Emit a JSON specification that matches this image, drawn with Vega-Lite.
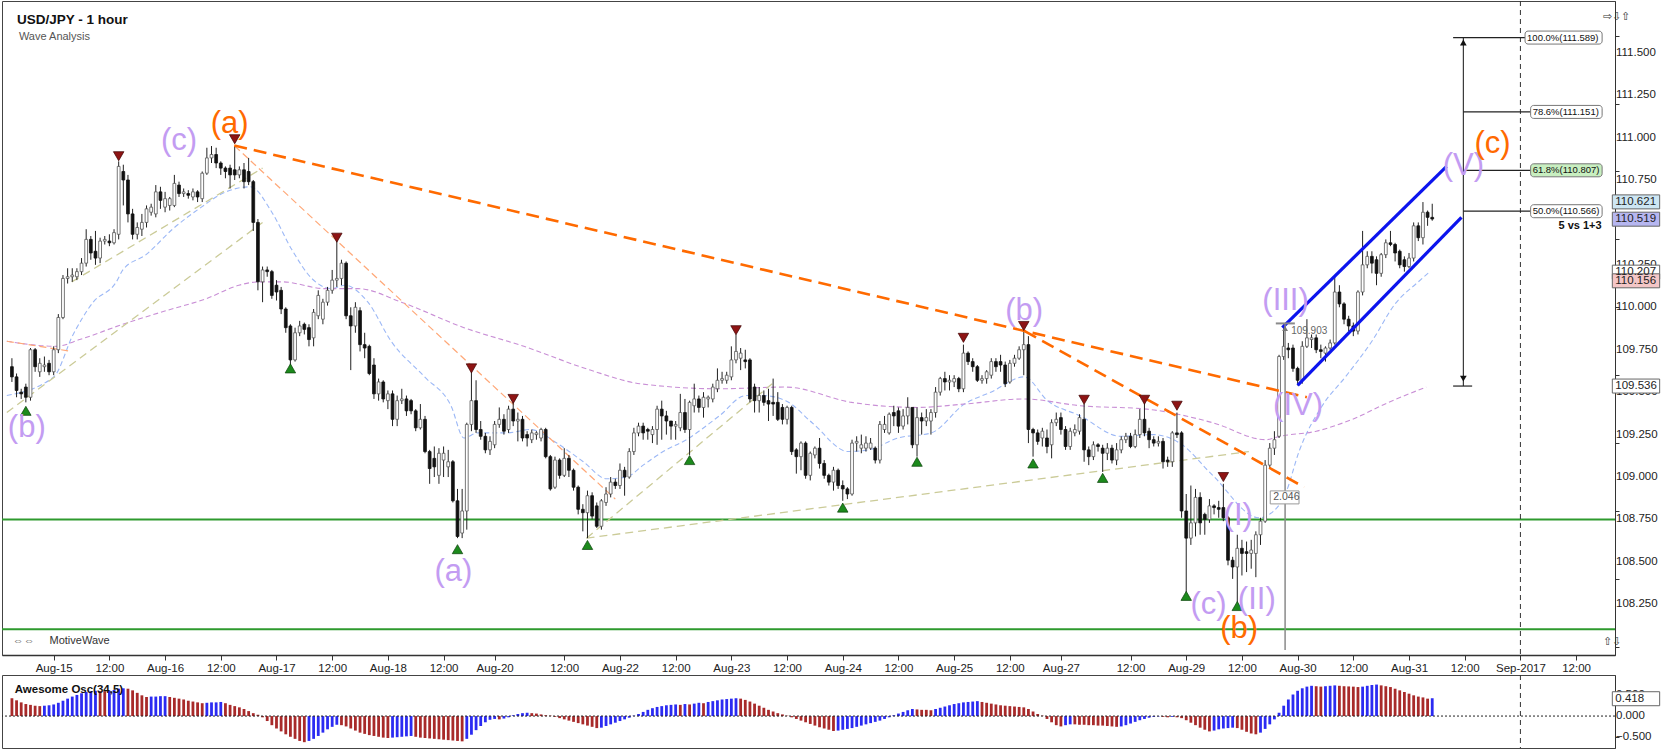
{
  "$schema": "https://vega.github.io/schema/vega-lite/v6.json",
  "padding": 0,
  "background": "#ffffff",
  "spacing": 0,
  "config": {
    "view": {"stroke": "#444444", "strokeWidth": 1},
    "font": "Liberation Sans",
    "axis": {"labelFont": "Liberation Sans", "labelFontSize": 11.5, "labelColor": "#222222", "tickColor": "#333333", "domainColor": "#333333", "grid": false, "labelOverlap": false, "labelFlush": false, "labelBound": false}
  },
  "resolve": {"scale": {"x": "independent", "y": "independent", "color": "independent", "fill": "independent"}},
  "datasets": {
    "bars": [
      {"i":-9,"o":109.65,"h":109.70,"l":109.56,"c":109.59,"a":0.43,"k":"r"},
      {"i":-8,"o":109.59,"h":109.61,"l":109.47,"c":109.51,"a":0.38,"k":"r"},
      {"i":-7,"o":109.50,"h":109.52,"l":109.46,"c":109.49,"a":0.33,"k":"r"},
      {"i":-6,"o":109.53,"h":109.55,"l":109.44,"c":109.47,"a":0.29,"k":"r"},
      {"i":-5,"o":109.47,"h":109.76,"l":109.45,"c":109.75,"a":0.27,"k":"r"},
      {"i":-4,"o":109.75,"h":109.76,"l":109.62,"c":109.65,"a":0.25,"k":"r"},
      {"i":-3,"o":109.62,"h":109.70,"l":109.59,"c":109.67,"a":0.24,"k":"r"},
      {"i":-2,"o":109.65,"h":109.71,"l":109.62,"c":109.66,"a":0.25,"k":"b"},
      {"i":-1,"o":109.67,"h":109.69,"l":109.60,"c":109.62,"a":0.26,"k":"b"},
      {"i":0,"o":109.62,"h":109.77,"l":109.60,"c":109.75,"a":0.28,"k":"b"},
      {"i":1,"o":109.75,"h":109.96,"l":109.73,"c":109.94,"a":0.32,"k":"b"},
      {"i":2,"o":109.94,"h":110.19,"l":109.93,"c":110.17,"a":0.37,"k":"b"},
      {"i":3,"o":110.17,"h":110.23,"l":110.14,"c":110.18,"a":0.42,"k":"b"},
      {"i":4,"o":110.18,"h":110.23,"l":110.15,"c":110.19,"a":0.47,"k":"b"},
      {"i":5,"o":110.18,"h":110.23,"l":110.16,"c":110.21,"a":0.51,"k":"b"},
      {"i":6,"o":110.21,"h":110.29,"l":110.19,"c":110.26,"a":0.55,"k":"b"},
      {"i":7,"o":110.26,"h":110.46,"l":110.24,"c":110.40,"a":0.58,"k":"b"},
      {"i":8,"o":110.40,"h":110.42,"l":110.28,"c":110.32,"a":0.60,"k":"b"},
      {"i":9,"o":110.33,"h":110.45,"l":110.25,"c":110.29,"a":0.61,"k":"b"},
      {"i":10,"o":110.29,"h":110.41,"l":110.26,"c":110.39,"a":0.60,"k":"r"},
      {"i":11,"o":110.39,"h":110.42,"l":110.37,"c":110.40,"a":0.60,"k":"r"},
      {"i":12,"o":110.39,"h":110.43,"l":110.36,"c":110.38,"a":0.61,"k":"b"},
      {"i":13,"o":110.38,"h":110.46,"l":110.37,"c":110.44,"a":0.63,"k":"b"},
      {"i":14,"o":110.43,"h":110.86,"l":110.40,"c":110.83,"a":0.66,"k":"b"},
      {"i":15,"o":110.80,"h":110.84,"l":110.60,"c":110.75,"a":0.67,"k":"b"},
      {"i":16,"o":110.75,"h":110.78,"l":110.50,"c":110.55,"a":0.66,"k":"r"},
      {"i":17,"o":110.55,"h":110.58,"l":110.40,"c":110.43,"a":0.62,"k":"r"},
      {"i":18,"o":110.43,"h":110.50,"l":110.40,"c":110.47,"a":0.56,"k":"r"},
      {"i":19,"o":110.46,"h":110.55,"l":110.42,"c":110.50,"a":0.50,"k":"r"},
      {"i":20,"o":110.50,"h":110.60,"l":110.47,"c":110.58,"a":0.46,"k":"r"},
      {"i":21,"o":110.56,"h":110.61,"l":110.54,"c":110.59,"a":0.47,"k":"b"},
      {"i":22,"o":110.55,"h":110.72,"l":110.53,"c":110.68,"a":0.47,"k":"b"},
      {"i":23,"o":110.68,"h":110.71,"l":110.58,"c":110.63,"a":0.48,"k":"b"},
      {"i":24,"o":110.59,"h":110.68,"l":110.56,"c":110.64,"a":0.48,"k":"b"},
      {"i":25,"o":110.60,"h":110.65,"l":110.57,"c":110.64,"a":0.46,"k":"r"},
      {"i":26,"o":110.60,"h":110.78,"l":110.59,"c":110.73,"a":0.44,"k":"r"},
      {"i":27,"o":110.72,"h":110.74,"l":110.65,"c":110.67,"a":0.42,"k":"r"},
      {"i":28,"o":110.67,"h":110.70,"l":110.65,"c":110.68,"a":0.40,"k":"r"},
      {"i":29,"o":110.67,"h":110.69,"l":110.64,"c":110.66,"a":0.37,"k":"r"},
      {"i":30,"o":110.65,"h":110.70,"l":110.63,"c":110.68,"a":0.35,"k":"r"},
      {"i":31,"o":110.68,"h":110.69,"l":110.62,"c":110.65,"a":0.33,"k":"r"},
      {"i":32,"o":110.64,"h":110.80,"l":110.62,"c":110.79,"a":0.31,"k":"r"},
      {"i":33,"o":110.79,"h":110.94,"l":110.78,"c":110.88,"a":0.32,"k":"b"},
      {"i":34,"o":110.88,"h":110.95,"l":110.85,"c":110.90,"a":0.33,"k":"b"},
      {"i":35,"o":110.90,"h":110.94,"l":110.82,"c":110.85,"a":0.33,"k":"b"},
      {"i":36,"o":110.85,"h":110.86,"l":110.78,"c":110.82,"a":0.34,"k":"b"},
      {"i":37,"o":110.82,"h":110.83,"l":110.76,"c":110.80,"a":0.31,"k":"r"},
      {"i":38,"o":110.82,"h":110.84,"l":110.70,"c":110.78,"a":0.27,"k":"r"},
      {"i":39,"o":110.81,"h":110.95,"l":110.75,"c":110.78,"a":0.24,"k":"r"},
      {"i":40,"o":110.78,"h":110.83,"l":110.76,"c":110.81,"a":0.21,"k":"r"},
      {"i":41,"o":110.81,"h":110.85,"l":110.70,"c":110.74,"a":0.17,"k":"r"},
      {"i":42,"o":110.80,"h":110.88,"l":110.72,"c":110.74,"a":0.12,"k":"r"},
      {"i":43,"o":110.74,"h":110.75,"l":110.45,"c":110.50,"a":0.07,"k":"r"},
      {"i":44,"o":110.50,"h":110.52,"l":110.10,"c":110.15,"a":0.03,"k":"r"},
      {"i":45,"o":110.15,"h":110.24,"l":110.03,"c":110.22,"a":-0.03,"k":"r"},
      {"i":46,"o":110.22,"h":110.24,"l":110.18,"c":110.21,"a":-0.12,"k":"r"},
      {"i":47,"o":110.21,"h":110.22,"l":110.05,"c":110.07,"a":-0.22,"k":"r"},
      {"i":48,"o":110.13,"h":110.16,"l":110.04,"c":110.09,"a":-0.30,"k":"r"},
      {"i":49,"o":110.10,"h":110.12,"l":109.96,"c":109.99,"a":-0.37,"k":"r"},
      {"i":50,"o":109.99,"h":110.00,"l":109.85,"c":109.88,"a":-0.44,"k":"r"},
      {"i":51,"o":109.89,"h":109.90,"l":109.66,"c":109.69,"a":-0.50,"k":"r"},
      {"i":52,"o":109.69,"h":109.88,"l":109.68,"c":109.85,"a":-0.55,"k":"r"},
      {"i":53,"o":109.85,"h":109.92,"l":109.83,"c":109.89,"a":-0.60,"k":"r"},
      {"i":54,"o":109.90,"h":109.91,"l":109.84,"c":109.87,"a":-0.63,"k":"r"},
      {"i":55,"o":109.88,"h":109.90,"l":109.77,"c":109.81,"a":-0.60,"k":"b"},
      {"i":56,"o":109.82,"h":109.99,"l":109.77,"c":109.97,"a":-0.55,"k":"b"},
      {"i":57,"o":109.95,"h":110.10,"l":109.93,"c":110.07,"a":-0.48,"k":"b"},
      {"i":58,"o":109.93,"h":110.05,"l":109.90,"c":110.03,"a":-0.40,"k":"b"},
      {"i":59,"o":110.03,"h":110.12,"l":110.01,"c":110.10,"a":-0.32,"k":"b"},
      {"i":60,"o":110.10,"h":110.22,"l":110.08,"c":110.16,"a":-0.26,"k":"b"},
      {"i":61,"o":110.16,"h":110.40,"l":110.12,"c":110.17,"a":-0.21,"k":"b"},
      {"i":62,"o":110.17,"h":110.28,"l":110.13,"c":110.26,"a":-0.22,"k":"r"},
      {"i":63,"o":110.26,"h":110.27,"l":109.93,"c":109.95,"a":-0.25,"k":"r"},
      {"i":64,"o":109.95,"h":110.00,"l":109.63,"c":109.89,"a":-0.30,"k":"r"},
      {"i":65,"o":109.89,"h":110.03,"l":109.85,"c":110.00,"a":-0.35,"k":"r"},
      {"i":66,"o":109.98,"h":110.00,"l":109.74,"c":109.78,"a":-0.40,"k":"r"},
      {"i":67,"o":109.78,"h":109.85,"l":109.70,"c":109.76,"a":-0.43,"k":"r"},
      {"i":68,"o":109.77,"h":109.78,"l":109.60,"c":109.61,"a":-0.46,"k":"r"},
      {"i":69,"o":109.66,"h":109.70,"l":109.46,"c":109.49,"a":-0.48,"k":"r"},
      {"i":70,"o":109.49,"h":109.58,"l":109.45,"c":109.56,"a":-0.50,"k":"r"},
      {"i":71,"o":109.56,"h":109.57,"l":109.44,"c":109.46,"a":-0.52,"k":"r"},
      {"i":72,"o":109.45,"h":109.51,"l":109.40,"c":109.49,"a":-0.53,"k":"r"},
      {"i":73,"o":109.49,"h":109.51,"l":109.30,"c":109.34,"a":-0.52,"k":"b"},
      {"i":74,"o":109.34,"h":109.48,"l":109.30,"c":109.45,"a":-0.51,"k":"b"},
      {"i":75,"o":109.45,"h":109.52,"l":109.43,"c":109.46,"a":-0.50,"k":"b"},
      {"i":76,"o":109.46,"h":109.48,"l":109.36,"c":109.39,"a":-0.49,"k":"b"},
      {"i":77,"o":109.45,"h":109.46,"l":109.37,"c":109.39,"a":-0.48,"k":"b"},
      {"i":78,"o":109.39,"h":109.40,"l":109.27,"c":109.29,"a":-0.50,"k":"r"},
      {"i":79,"o":109.29,"h":109.43,"l":109.28,"c":109.34,"a":-0.52,"k":"r"},
      {"i":80,"o":109.34,"h":109.36,"l":109.14,"c":109.15,"a":-0.53,"k":"r"},
      {"i":81,"o":109.15,"h":109.16,"l":108.96,"c":109.05,"a":-0.54,"k":"r"},
      {"i":82,"o":109.11,"h":109.18,"l":109.00,"c":109.06,"a":-0.55,"k":"r"},
      {"i":83,"o":109.01,"h":109.17,"l":108.96,"c":109.14,"a":-0.56,"k":"r"},
      {"i":84,"o":109.10,"h":109.18,"l":109.00,"c":109.14,"a":-0.57,"k":"r"},
      {"i":85,"o":109.06,"h":109.16,"l":109.00,"c":109.09,"a":-0.58,"k":"r"},
      {"i":86,"o":109.09,"h":109.10,"l":108.85,"c":108.86,"a":-0.59,"k":"r"},
      {"i":87,"o":108.86,"h":108.93,"l":108.64,"c":108.65,"a":-0.60,"k":"r"},
      {"i":88,"o":108.67,"h":108.93,"l":108.64,"c":108.80,"a":-0.61,"k":"r"},
      {"i":89,"o":108.80,"h":109.32,"l":108.69,"c":109.31,"a":-0.55,"k":"b"},
      {"i":90,"o":109.31,"h":109.62,"l":109.27,"c":109.45,"a":-0.45,"k":"b"},
      {"i":91,"o":109.45,"h":109.57,"l":109.26,"c":109.28,"a":-0.34,"k":"b"},
      {"i":92,"o":109.28,"h":109.33,"l":109.22,"c":109.24,"a":-0.24,"k":"b"},
      {"i":93,"o":109.24,"h":109.26,"l":109.14,"c":109.16,"a":-0.15,"k":"b"},
      {"i":94,"o":109.16,"h":109.24,"l":109.13,"c":109.21,"a":-0.09,"k":"b"},
      {"i":95,"o":109.19,"h":109.33,"l":109.17,"c":109.31,"a":-0.07,"k":"b"},
      {"i":96,"o":109.31,"h":109.41,"l":109.29,"c":109.34,"a":-0.08,"k":"r"},
      {"i":97,"o":109.34,"h":109.37,"l":109.25,"c":109.27,"a":-0.06,"k":"b"},
      {"i":98,"o":109.28,"h":109.42,"l":109.26,"c":109.40,"a":-0.03,"k":"b"},
      {"i":99,"o":109.40,"h":109.45,"l":109.30,"c":109.33,"a":0.02,"k":"b"},
      {"i":100,"o":109.33,"h":109.38,"l":109.21,"c":109.34,"a":0.05,"k":"b"},
      {"i":101,"o":109.34,"h":109.36,"l":109.21,"c":109.23,"a":0.07,"k":"b"},
      {"i":102,"o":109.25,"h":109.27,"l":109.18,"c":109.23,"a":0.08,"k":"b"},
      {"i":103,"o":109.22,"h":109.28,"l":109.20,"c":109.26,"a":0.07,"k":"r"},
      {"i":104,"o":109.25,"h":109.27,"l":109.22,"c":109.26,"a":0.06,"k":"r"},
      {"i":105,"o":109.23,"h":109.29,"l":109.21,"c":109.28,"a":0.04,"k":"r"},
      {"i":106,"o":109.28,"h":109.29,"l":109.11,"c":109.12,"a":0.02,"k":"r"},
      {"i":107,"o":109.12,"h":109.13,"l":108.92,"c":108.93,"a":0.01,"k":"r"},
      {"i":108,"o":108.94,"h":109.12,"l":108.93,"c":109.10,"a":-0.02,"k":"r"},
      {"i":109,"o":109.10,"h":109.11,"l":108.99,"c":109.01,"a":-0.05,"k":"r"},
      {"i":110,"o":109.01,"h":109.17,"l":109.00,"c":109.11,"a":-0.08,"k":"r"},
      {"i":111,"o":109.11,"h":109.13,"l":109.00,"c":109.04,"a":-0.11,"k":"r"},
      {"i":112,"o":109.04,"h":109.05,"l":108.92,"c":108.94,"a":-0.14,"k":"r"},
      {"i":113,"o":108.94,"h":108.95,"l":108.78,"c":108.81,"a":-0.17,"k":"r"},
      {"i":114,"o":108.81,"h":108.84,"l":108.68,"c":108.79,"a":-0.20,"k":"r"},
      {"i":115,"o":108.79,"h":108.92,"l":108.64,"c":108.89,"a":-0.23,"k":"r"},
      {"i":116,"o":108.89,"h":108.91,"l":108.75,"c":108.77,"a":-0.26,"k":"r"},
      {"i":117,"o":108.83,"h":108.85,"l":108.70,"c":108.71,"a":-0.29,"k":"r"},
      {"i":118,"o":108.71,"h":108.87,"l":108.69,"c":108.86,"a":-0.28,"k":"b"},
      {"i":119,"o":108.85,"h":108.94,"l":108.83,"c":108.90,"a":-0.24,"k":"b"},
      {"i":120,"o":108.90,"h":109.00,"l":108.88,"c":108.97,"a":-0.20,"k":"b"},
      {"i":121,"o":108.97,"h":108.99,"l":108.93,"c":108.95,"a":-0.16,"k":"b"},
      {"i":122,"o":108.95,"h":109.08,"l":108.93,"c":109.04,"a":-0.12,"k":"b"},
      {"i":123,"o":109.04,"h":109.06,"l":108.89,"c":109.00,"a":-0.08,"k":"b"},
      {"i":124,"o":109.00,"h":109.17,"l":108.99,"c":109.15,"a":-0.04,"k":"b"},
      {"i":125,"o":109.15,"h":109.29,"l":109.13,"c":109.26,"a":0.01,"k":"b"},
      {"i":126,"o":109.26,"h":109.32,"l":109.24,"c":109.30,"a":0.05,"k":"b"},
      {"i":127,"o":109.30,"h":109.32,"l":109.22,"c":109.26,"a":0.10,"k":"b"},
      {"i":128,"o":109.28,"h":109.29,"l":109.22,"c":109.27,"a":0.15,"k":"b"},
      {"i":129,"o":109.25,"h":109.30,"l":109.20,"c":109.28,"a":0.19,"k":"b"},
      {"i":130,"o":109.28,"h":109.42,"l":109.19,"c":109.40,"a":0.22,"k":"b"},
      {"i":131,"o":109.40,"h":109.45,"l":109.22,"c":109.36,"a":0.24,"k":"b"},
      {"i":132,"o":109.36,"h":109.39,"l":109.25,"c":109.33,"a":0.26,"k":"b"},
      {"i":133,"o":109.33,"h":109.33,"l":109.22,"c":109.30,"a":0.27,"k":"b"},
      {"i":134,"o":109.30,"h":109.33,"l":109.22,"c":109.31,"a":0.28,"k":"b"},
      {"i":135,"o":109.29,"h":109.49,"l":109.27,"c":109.38,"a":0.27,"k":"r"},
      {"i":136,"o":109.38,"h":109.46,"l":109.26,"c":109.28,"a":0.29,"k":"b"},
      {"i":137,"o":109.28,"h":109.45,"l":109.13,"c":109.44,"a":0.28,"k":"r"},
      {"i":138,"o":109.42,"h":109.55,"l":109.38,"c":109.46,"a":0.30,"k":"b"},
      {"i":139,"o":109.46,"h":109.48,"l":109.38,"c":109.41,"a":0.32,"k":"b"},
      {"i":140,"o":109.41,"h":109.50,"l":109.35,"c":109.47,"a":0.31,"k":"r"},
      {"i":141,"o":109.46,"h":109.48,"l":109.41,"c":109.47,"a":0.34,"k":"b"},
      {"i":142,"o":109.46,"h":109.55,"l":109.44,"c":109.53,"a":0.36,"k":"b"},
      {"i":143,"o":109.52,"h":109.64,"l":109.50,"c":109.57,"a":0.38,"k":"b"},
      {"i":144,"o":109.57,"h":109.62,"l":109.55,"c":109.58,"a":0.40,"k":"b"},
      {"i":145,"o":109.57,"h":109.62,"l":109.55,"c":109.60,"a":0.41,"k":"b"},
      {"i":146,"o":109.59,"h":109.77,"l":109.57,"c":109.69,"a":0.42,"k":"b"},
      {"i":147,"o":109.69,"h":109.84,"l":109.67,"c":109.74,"a":0.43,"k":"b"},
      {"i":148,"o":109.70,"h":109.76,"l":109.63,"c":109.73,"a":0.42,"k":"r"},
      {"i":149,"o":109.69,"h":109.75,"l":109.64,"c":109.68,"a":0.39,"k":"r"},
      {"i":150,"o":109.69,"h":109.70,"l":109.44,"c":109.46,"a":0.35,"k":"r"},
      {"i":151,"o":109.53,"h":109.55,"l":109.38,"c":109.45,"a":0.30,"k":"r"},
      {"i":152,"o":109.45,"h":109.53,"l":109.38,"c":109.48,"a":0.25,"k":"r"},
      {"i":153,"o":109.48,"h":109.51,"l":109.42,"c":109.44,"a":0.20,"k":"r"},
      {"i":154,"o":109.45,"h":109.52,"l":109.33,"c":109.43,"a":0.15,"k":"r"},
      {"i":155,"o":109.44,"h":109.58,"l":109.36,"c":109.43,"a":0.11,"k":"r"},
      {"i":156,"o":109.44,"h":109.50,"l":109.33,"c":109.34,"a":0.07,"k":"r"},
      {"i":157,"o":109.41,"h":109.43,"l":109.31,"c":109.34,"a":0.04,"k":"r"},
      {"i":158,"o":109.34,"h":109.42,"l":109.31,"c":109.41,"a":0.01,"k":"r"},
      {"i":159,"o":109.41,"h":109.42,"l":109.13,"c":109.15,"a":-0.03,"k":"r"},
      {"i":160,"o":109.16,"h":109.17,"l":109.02,"c":109.12,"a":-0.07,"k":"r"},
      {"i":161,"o":109.12,"h":109.21,"l":109.04,"c":109.20,"a":-0.11,"k":"r"},
      {"i":162,"o":109.20,"h":109.21,"l":108.99,"c":109.01,"a":-0.15,"k":"r"},
      {"i":163,"o":109.01,"h":109.15,"l":108.98,"c":109.14,"a":-0.19,"k":"r"},
      {"i":164,"o":109.13,"h":109.18,"l":109.11,"c":109.17,"a":-0.23,"k":"r"},
      {"i":165,"o":109.17,"h":109.23,"l":109.05,"c":109.08,"a":-0.27,"k":"r"},
      {"i":166,"o":109.08,"h":109.10,"l":108.99,"c":109.01,"a":-0.30,"k":"r"},
      {"i":167,"o":109.01,"h":109.02,"l":108.95,"c":108.97,"a":-0.33,"k":"r"},
      {"i":168,"o":108.97,"h":109.06,"l":108.92,"c":109.04,"a":-0.36,"k":"r"},
      {"i":169,"o":109.04,"h":109.05,"l":108.93,"c":108.95,"a":-0.35,"k":"b"},
      {"i":170,"o":108.95,"h":108.98,"l":108.86,"c":108.93,"a":-0.33,"k":"b"},
      {"i":171,"o":108.93,"h":108.94,"l":108.87,"c":108.90,"a":-0.31,"k":"b"},
      {"i":172,"o":108.90,"h":109.22,"l":108.89,"c":109.20,"a":-0.29,"k":"b"},
      {"i":173,"o":109.20,"h":109.24,"l":109.15,"c":109.21,"a":-0.26,"k":"b"},
      {"i":174,"o":109.17,"h":109.25,"l":109.14,"c":109.19,"a":-0.23,"k":"b"},
      {"i":175,"o":109.17,"h":109.24,"l":109.15,"c":109.20,"a":-0.20,"k":"b"},
      {"i":176,"o":109.17,"h":109.23,"l":109.16,"c":109.20,"a":-0.17,"k":"b"},
      {"i":177,"o":109.17,"h":109.18,"l":109.08,"c":109.10,"a":-0.14,"k":"b"},
      {"i":178,"o":109.10,"h":109.33,"l":109.08,"c":109.31,"a":-0.11,"k":"b"},
      {"i":179,"o":109.28,"h":109.36,"l":109.26,"c":109.31,"a":-0.07,"k":"b"},
      {"i":180,"o":109.26,"h":109.38,"l":109.25,"c":109.37,"a":-0.03,"k":"b"},
      {"i":181,"o":109.38,"h":109.42,"l":109.30,"c":109.36,"a":0.02,"k":"b"},
      {"i":182,"o":109.39,"h":109.41,"l":109.26,"c":109.30,"a":0.06,"k":"b"},
      {"i":183,"o":109.30,"h":109.40,"l":109.28,"c":109.36,"a":0.10,"k":"b"},
      {"i":184,"o":109.36,"h":109.47,"l":109.31,"c":109.41,"a":0.14,"k":"b"},
      {"i":185,"o":109.41,"h":109.41,"l":109.17,"c":109.19,"a":0.17,"k":"b"},
      {"i":186,"o":109.19,"h":109.41,"l":109.12,"c":109.35,"a":0.16,"k":"r"},
      {"i":187,"o":109.35,"h":109.38,"l":109.25,"c":109.33,"a":0.15,"k":"r"},
      {"i":188,"o":109.33,"h":109.40,"l":109.30,"c":109.35,"a":0.15,"k":"r"},
      {"i":189,"o":109.33,"h":109.40,"l":109.25,"c":109.38,"a":0.14,"k":"r"},
      {"i":190,"o":109.38,"h":109.53,"l":109.35,"c":109.50,"a":0.17,"k":"b"},
      {"i":191,"o":109.50,"h":109.59,"l":109.48,"c":109.58,"a":0.20,"k":"b"},
      {"i":192,"o":109.58,"h":109.62,"l":109.51,"c":109.56,"a":0.23,"k":"b"},
      {"i":193,"o":109.56,"h":109.60,"l":109.51,"c":109.57,"a":0.26,"k":"b"},
      {"i":194,"o":109.56,"h":109.60,"l":109.53,"c":109.58,"a":0.29,"k":"b"},
      {"i":195,"o":109.58,"h":109.59,"l":109.50,"c":109.52,"a":0.31,"k":"b"},
      {"i":196,"o":109.52,"h":109.78,"l":109.50,"c":109.73,"a":0.33,"k":"b"},
      {"i":197,"o":109.73,"h":109.74,"l":109.66,"c":109.68,"a":0.34,"k":"b"},
      {"i":198,"o":109.68,"h":109.70,"l":109.62,"c":109.65,"a":0.35,"k":"b"},
      {"i":199,"o":109.65,"h":109.66,"l":109.56,"c":109.57,"a":0.36,"k":"b"},
      {"i":200,"o":109.57,"h":109.60,"l":109.55,"c":109.58,"a":0.34,"k":"r"},
      {"i":201,"o":109.58,"h":109.63,"l":109.55,"c":109.62,"a":0.32,"k":"r"},
      {"i":202,"o":109.60,"h":109.70,"l":109.58,"c":109.68,"a":0.30,"k":"r"},
      {"i":203,"o":109.68,"h":109.70,"l":109.62,"c":109.65,"a":0.28,"k":"r"},
      {"i":204,"o":109.68,"h":109.72,"l":109.62,"c":109.66,"a":0.26,"k":"r"},
      {"i":205,"o":109.66,"h":109.68,"l":109.53,"c":109.55,"a":0.25,"k":"r"},
      {"i":206,"o":109.56,"h":109.69,"l":109.55,"c":109.67,"a":0.24,"k":"r"},
      {"i":207,"o":109.67,"h":109.72,"l":109.65,"c":109.70,"a":0.23,"k":"r"},
      {"i":208,"o":109.70,"h":109.77,"l":109.69,"c":109.75,"a":0.22,"k":"r"},
      {"i":209,"o":109.75,"h":109.86,"l":109.60,"c":109.78,"a":0.21,"k":"r"},
      {"i":210,"o":109.78,"h":109.83,"l":109.20,"c":109.28,"a":0.17,"k":"r"},
      {"i":211,"o":109.28,"h":109.29,"l":109.12,"c":109.26,"a":0.11,"k":"r"},
      {"i":212,"o":109.26,"h":109.28,"l":109.19,"c":109.21,"a":0.05,"k":"r"},
      {"i":213,"o":109.23,"h":109.29,"l":109.18,"c":109.27,"a":0.01,"k":"r"},
      {"i":214,"o":109.23,"h":109.28,"l":109.14,"c":109.18,"a":-0.07,"k":"r"},
      {"i":215,"o":109.19,"h":109.34,"l":109.11,"c":109.32,"a":-0.15,"k":"r"},
      {"i":216,"o":109.32,"h":109.38,"l":109.30,"c":109.34,"a":-0.22,"k":"r"},
      {"i":217,"o":109.35,"h":109.38,"l":109.25,"c":109.28,"a":-0.25,"k":"r"},
      {"i":218,"o":109.28,"h":109.30,"l":109.16,"c":109.18,"a":-0.22,"k":"b"},
      {"i":219,"o":109.18,"h":109.29,"l":109.16,"c":109.27,"a":-0.20,"k":"b"},
      {"i":220,"o":109.26,"h":109.31,"l":109.24,"c":109.28,"a":-0.20,"k":"r"},
      {"i":221,"o":109.27,"h":109.37,"l":109.25,"c":109.35,"a":-0.21,"k":"r"},
      {"i":222,"o":109.34,"h":109.43,"l":109.09,"c":109.16,"a":-0.21,"k":"r"},
      {"i":223,"o":109.16,"h":109.18,"l":109.07,"c":109.12,"a":-0.22,"k":"r"},
      {"i":224,"o":109.12,"h":109.21,"l":109.10,"c":109.19,"a":-0.22,"k":"r"},
      {"i":225,"o":109.19,"h":109.20,"l":109.15,"c":109.18,"a":-0.23,"k":"r"},
      {"i":226,"o":109.17,"h":109.19,"l":109.03,"c":109.14,"a":-0.23,"k":"r"},
      {"i":227,"o":109.14,"h":109.20,"l":109.10,"c":109.17,"a":-0.24,"k":"r"},
      {"i":228,"o":109.17,"h":109.19,"l":109.08,"c":109.10,"a":-0.25,"k":"r"},
      {"i":229,"o":109.10,"h":109.20,"l":109.07,"c":109.16,"a":-0.26,"k":"r"},
      {"i":230,"o":109.16,"h":109.24,"l":109.14,"c":109.22,"a":-0.25,"k":"b"},
      {"i":231,"o":109.22,"h":109.26,"l":109.20,"c":109.24,"a":-0.22,"k":"b"},
      {"i":232,"o":109.24,"h":109.26,"l":109.17,"c":109.18,"a":-0.18,"k":"b"},
      {"i":233,"o":109.18,"h":109.28,"l":109.17,"c":109.25,"a":-0.14,"k":"b"},
      {"i":234,"o":109.25,"h":109.40,"l":109.23,"c":109.34,"a":-0.10,"k":"b"},
      {"i":235,"o":109.34,"h":109.45,"l":109.24,"c":109.26,"a":-0.07,"k":"b"},
      {"i":236,"o":109.27,"h":109.29,"l":109.17,"c":109.22,"a":-0.04,"k":"b"},
      {"i":237,"o":109.22,"h":109.24,"l":109.18,"c":109.20,"a":-0.02,"k":"b"},
      {"i":238,"o":109.20,"h":109.24,"l":109.18,"c":109.21,"a":-0.01,"k":"b"},
      {"i":239,"o":109.21,"h":109.23,"l":109.05,"c":109.09,"a":-0.02,"k":"r"},
      {"i":240,"o":109.10,"h":109.12,"l":109.06,"c":109.09,"a":-0.03,"k":"r"},
      {"i":241,"o":109.09,"h":109.27,"l":109.06,"c":109.26,"a":-0.02,"k":"b"},
      {"i":242,"o":109.26,"h":109.38,"l":109.23,"c":109.25,"a":-0.03,"k":"r"},
      {"i":243,"o":109.26,"h":109.27,"l":108.76,"c":108.80,"a":-0.05,"k":"r"},
      {"i":244,"o":108.80,"h":108.90,"l":108.32,"c":108.64,"a":-0.10,"k":"r"},
      {"i":245,"o":108.64,"h":108.95,"l":108.60,"c":108.73,"a":-0.16,"k":"r"},
      {"i":246,"o":108.73,"h":108.93,"l":108.65,"c":108.88,"a":-0.22,"k":"r"},
      {"i":247,"o":108.88,"h":108.91,"l":108.66,"c":108.73,"a":-0.28,"k":"r"},
      {"i":248,"o":108.78,"h":108.79,"l":108.66,"c":108.75,"a":-0.33,"k":"r"},
      {"i":249,"o":108.75,"h":108.87,"l":108.73,"c":108.83,"a":-0.37,"k":"r"},
      {"i":250,"o":108.83,"h":108.84,"l":108.78,"c":108.82,"a":-0.35,"k":"b"},
      {"i":251,"o":108.82,"h":108.86,"l":108.76,"c":108.81,"a":-0.32,"k":"b"},
      {"i":252,"o":108.82,"h":108.96,"l":108.74,"c":108.76,"a":-0.30,"k":"b"},
      {"i":253,"o":108.76,"h":108.77,"l":108.48,"c":108.51,"a":-0.29,"k":"b"},
      {"i":254,"o":108.51,"h":108.53,"l":108.40,"c":108.47,"a":-0.28,"k":"b"},
      {"i":255,"o":108.47,"h":108.66,"l":108.26,"c":108.58,"a":-0.29,"k":"r"},
      {"i":256,"o":108.58,"h":108.63,"l":108.42,"c":108.55,"a":-0.33,"k":"r"},
      {"i":257,"o":108.56,"h":108.62,"l":108.44,"c":108.55,"a":-0.38,"k":"r"},
      {"i":258,"o":108.55,"h":108.63,"l":108.46,"c":108.57,"a":-0.42,"k":"r"},
      {"i":259,"o":108.55,"h":108.68,"l":108.41,"c":108.66,"a":-0.44,"k":"r"},
      {"i":260,"o":108.66,"h":108.76,"l":108.60,"c":108.74,"a":-0.40,"k":"b"},
      {"i":261,"o":108.74,"h":109.10,"l":108.73,"c":109.07,"a":-0.31,"k":"b"},
      {"i":262,"o":109.07,"h":109.20,"l":109.05,"c":109.17,"a":-0.20,"k":"b"},
      {"i":263,"o":109.17,"h":109.27,"l":109.13,"c":109.22,"a":-0.08,"k":"b"},
      {"i":264,"o":109.24,"h":109.72,"l":109.23,"c":109.71,"a":0.08,"k":"b"},
      {"i":265,"o":109.71,"h":109.90,"l":109.69,"c":109.77,"a":0.25,"k":"b"},
      {"i":266,"o":109.76,"h":109.79,"l":109.70,"c":109.75,"a":0.40,"k":"b"},
      {"i":267,"o":109.76,"h":109.78,"l":109.62,"c":109.64,"a":0.52,"k":"b"},
      {"i":268,"o":109.64,"h":109.65,"l":109.54,"c":109.57,"a":0.61,"k":"b"},
      {"i":269,"o":109.57,"h":109.80,"l":109.55,"c":109.77,"a":0.67,"k":"b"},
      {"i":270,"o":109.77,"h":109.93,"l":109.76,"c":109.82,"a":0.71,"k":"b"},
      {"i":271,"o":109.81,"h":109.84,"l":109.76,"c":109.82,"a":0.73,"k":"b"},
      {"i":272,"o":109.82,"h":109.84,"l":109.73,"c":109.75,"a":0.72,"k":"r"},
      {"i":273,"o":109.75,"h":109.78,"l":109.70,"c":109.74,"a":0.71,"k":"r"},
      {"i":274,"o":109.73,"h":109.77,"l":109.68,"c":109.76,"a":0.72,"k":"b"},
      {"i":275,"o":109.76,"h":109.81,"l":109.75,"c":109.79,"a":0.73,"k":"b"},
      {"i":276,"o":109.79,"h":110.18,"l":109.78,"c":110.09,"a":0.74,"k":"b"},
      {"i":277,"o":110.09,"h":110.13,"l":110.00,"c":110.02,"a":0.73,"k":"r"},
      {"i":278,"o":110.02,"h":110.03,"l":109.90,"c":109.93,"a":0.72,"k":"r"},
      {"i":279,"o":109.93,"h":109.95,"l":109.86,"c":109.89,"a":0.715,"k":"r"},
      {"i":280,"o":109.89,"h":109.91,"l":109.83,"c":109.86,"a":0.71,"k":"r"},
      {"i":281,"o":109.86,"h":110.10,"l":109.84,"c":110.09,"a":0.70,"k":"r"},
      {"i":282,"o":110.09,"h":110.45,"l":110.07,"c":110.25,"a":0.71,"k":"b"},
      {"i":283,"o":110.25,"h":110.33,"l":110.23,"c":110.30,"a":0.73,"k":"b"},
      {"i":284,"o":110.30,"h":110.33,"l":110.20,"c":110.26,"a":0.75,"k":"b"},
      {"i":285,"o":110.28,"h":110.30,"l":110.13,"c":110.20,"a":0.76,"k":"b"},
      {"i":286,"o":110.20,"h":110.32,"l":110.18,"c":110.31,"a":0.74,"k":"r"},
      {"i":287,"o":110.31,"h":110.40,"l":110.29,"c":110.38,"a":0.72,"k":"r"},
      {"i":288,"o":110.38,"h":110.45,"l":110.36,"c":110.37,"a":0.70,"k":"r"},
      {"i":289,"o":110.37,"h":110.38,"l":110.27,"c":110.32,"a":0.66,"k":"r"},
      {"i":290,"o":110.33,"h":110.34,"l":110.23,"c":110.25,"a":0.62,"k":"r"},
      {"i":291,"o":110.28,"h":110.30,"l":110.21,"c":110.24,"a":0.58,"k":"r"},
      {"i":292,"o":110.24,"h":110.32,"l":110.23,"c":110.29,"a":0.54,"k":"r"},
      {"i":293,"o":110.29,"h":110.50,"l":110.27,"c":110.48,"a":0.50,"k":"r"},
      {"i":294,"o":110.48,"h":110.50,"l":110.39,"c":110.41,"a":0.47,"k":"r"},
      {"i":295,"o":110.41,"h":110.62,"l":110.37,"c":110.56,"a":0.45,"k":"r"},
      {"i":296,"o":110.56,"h":110.57,"l":110.48,"c":110.53,"a":0.42,"k":"r"},
      {"i":297,"o":110.53,"h":110.61,"l":110.51,"c":110.52,"a":0.43,"k":"b"}
    ],
    "ma": [
      {"m":"b","i":-10.1,"p":109.48},{"m":"b","i":0,"p":109.59},{"m":"b","i":4.2,"p":109.84},{"m":"b","i":8.5,"p":110.03},{"m":"b","i":13.5,"p":110.15},{"m":"b","i":14.9,"p":110.22},{"m":"b","i":19.9,"p":110.31},{"m":"b","i":25.6,"p":110.46},{"m":"b","i":31.3,"p":110.58},{"m":"b","i":37.1,"p":110.68},{"m":"b","i":42.4,"p":110.71},{"m":"b","i":47,"p":110.56},{"m":"b","i":51.3,"p":110.34},{"m":"b","i":55.6,"p":110.17},{"m":"b","i":59.9,"p":110.11},{"m":"b","i":62.7,"p":110.13},{"m":"b","i":67.7,"p":110.03},{"m":"b","i":72.7,"p":109.80},{"m":"b","i":79.9,"p":109.59},{"m":"b","i":85.6,"p":109.42},{"m":"b","i":88.4,"p":109.23},{"m":"b","i":91.3,"p":109.26},{"m":"b","i":97.7,"p":109.26},{"m":"b","i":102.7,"p":109.28},{"m":"b","i":108.4,"p":109.20},{"m":"b","i":114.1,"p":109.09},{"m":"b","i":119.1,"p":108.99},{"m":"b","i":123.4,"p":109.00},{"m":"b","i":127,"p":109.07},{"m":"b","i":131.3,"p":109.15},{"m":"b","i":136.3,"p":109.22},{"m":"b","i":143.4,"p":109.36},{"m":"b","i":149.1,"p":109.48},{"m":"b","i":152.7,"p":109.48},{"m":"b","i":157.7,"p":109.45},{"m":"b","i":163.4,"p":109.32},{"m":"b","i":171.2,"p":109.15},{"m":"b","i":175.5,"p":109.16},{"m":"b","i":181.9,"p":109.23},{"m":"b","i":189.1,"p":109.26},{"m":"b","i":196.2,"p":109.43},{"m":"b","i":201.9,"p":109.50},{"m":"b","i":209.1,"p":109.59},{"m":"b","i":214.1,"p":109.45},{"m":"b","i":221.2,"p":109.36},{"m":"b","i":229.8,"p":109.24},{"m":"b","i":236.9,"p":109.25},{"m":"b","i":242.6,"p":109.20},{"m":"b","i":249.7,"p":109.01},{"m":"b","i":259.7,"p":108.76},{"m":"b","i":261.9,"p":108.78},{"m":"b","i":265.5,"p":108.91},{"m":"b","i":268.3,"p":109.15},{"m":"b","i":273.3,"p":109.42},{"m":"b","i":278.3,"p":109.59},{"m":"b","i":284,"p":109.80},{"m":"b","i":289,"p":110.02},{"m":"b","i":294,"p":110.15},{"m":"b","i":296.5,"p":110.21},
      {"m":"v","i":-10.1,"p":109.80},{"m":"v","i":0.6,"p":109.77},{"m":"v","i":5.6,"p":109.81},{"m":"v","i":14.9,"p":109.90},{"m":"v","i":24.2,"p":109.98},{"m":"v","i":32.8,"p":110.05},{"m":"v","i":39.9,"p":110.13},{"m":"v","i":44.2,"p":110.15},{"m":"v","i":49.2,"p":110.15},{"m":"v","i":58.5,"p":110.11},{"m":"v","i":65.6,"p":110.11},{"m":"v","i":74.9,"p":110.03},{"m":"v","i":88.4,"p":109.88},{"m":"v","i":101.3,"p":109.77},{"m":"v","i":115.6,"p":109.63},{"m":"v","i":126.3,"p":109.55},{"m":"v","i":143.4,"p":109.52},{"m":"v","i":157.7,"p":109.53},{"m":"v","i":171.9,"p":109.44},{"m":"v","i":186.2,"p":109.41},{"m":"v","i":196.2,"p":109.43},{"m":"v","i":209,"p":109.46},{"m":"v","i":221.2,"p":109.42},{"m":"v","i":235.5,"p":109.40},{"m":"v","i":249.7,"p":109.32},{"m":"v","i":261.2,"p":109.22},{"m":"v","i":264.2,"p":109.24},{"m":"v","i":272,"p":109.27},{"m":"v","i":279.8,"p":109.34},{"m":"v","i":287.6,"p":109.44},{"m":"v","i":295.7,"p":109.53}
    ],
    "seg": [
      {"g":"A","t":"o1","i":38.9,"p":110.953},{"g":"A","t":"o1","i":270,"p":109.47},
      {"g":"B","t":"o1","i":209.2,"p":109.86},{"g":"B","t":"o1","i":269.4,"p":108.94},
      {"g":"C","t":"o2","i":39,"p":110.95},{"g":"C","t":"o2","i":121,"p":108.87},
      {"g":"D","t":"o2","i":-10.1,"p":109.80},{"g":"D","t":"o2","i":3.9,"p":109.74},
      {"g":"E","t":"k","i":-10.1,"p":109.38},{"g":"E","t":"k","i":45,"p":110.50},
      {"g":"F","t":"k","i":3.9,"p":110.15},{"g":"F","t":"k","i":45,"p":110.82},
      {"g":"G","t":"k","i":114.8,"p":108.64},{"g":"G","t":"k","i":154.8,"p":109.55},
      {"g":"H","t":"k","i":114.8,"p":108.64},{"g":"H","t":"k","i":257.5,"p":109.15},
      {"g":"I","t":"ch","i":264.7,"p":109.88},{"g":"I","t":"ch","i":300.1,"p":110.83},
      {"g":"J","t":"ch","i":268,"p":109.54},{"g":"J","t":"ch","i":303.3,"p":110.53}
    ],
    "tri": [
      {"i":14,"p":110.89,"k":"h"},{"i":39,"p":110.99,"k":"h"},{"i":61,"p":110.41,"k":"h"},{"i":90,"p":109.64,"k":"h"},{"i":99,"p":109.46,"k":"h"},{"i":147,"p":109.865,"k":"h"},{"i":196,"p":109.82,"k":"h"},{"i":209,"p":109.89,"k":"h"},{"i":222,"p":109.455,"k":"h"},{"i":235,"p":109.455,"k":"h"},{"i":242,"p":109.42,"k":"h"},{"i":252,"p":109.0,"k":"h"},
      {"i":-6,"p":109.39,"k":"l"},{"i":51,"p":109.64,"k":"l"},{"i":87,"p":108.575,"k":"l"},{"i":115,"p":108.60,"k":"l"},{"i":137,"p":109.10,"k":"l"},{"i":170,"p":108.82,"k":"l"},{"i":186,"p":109.09,"k":"l"},{"i":211,"p":109.08,"k":"l"},{"i":226,"p":108.995,"k":"l"},{"i":244,"p":108.30,"k":"l"},{"i":255,"p":108.24,"k":"l"}
    ],
    "wl": [
      {"t":"(b)","i":-5.8,"p":109.29,"c":"p"},{"t":"(c)","i":27,"p":110.98,"c":"p"},{"t":"(a)","i":86.1,"p":108.44,"c":"p"},{"t":"(b)","i":209.1,"p":109.98,"c":"p"},{"t":"(c)","i":248.8,"p":108.245,"c":"p"},{"t":"(I)","i":255.2,"p":108.77,"c":"p"},{"t":"(II)","i":259.2,"p":108.275,"c":"p"},{"t":"(III)","i":265.4,"p":110.035,"c":"p"},{"t":"(IV)","i":268.1,"p":109.42,"c":"p"},{"t":"(V)","i":303.7,"p":110.83,"c":"p"},
      {"t":"(a)","i":37.9,"p":111.08,"c":"o"},{"t":"(b)","i":255.4,"p":108.105,"c":"o"},{"t":"(c)","i":310,"p":110.96,"c":"o"}
    ]
  },
  "vconcat": [
    {
      "width": 1613,
      "height": 654,
      "layer": [
        {
          "data": {"values": [{"p":108.75},{"p":108.103}]},
          "mark": {"type": "rule", "color": "#2e9a2e", "strokeWidth": 2},
          "encoding": {"y": {"field": "p", "type": "quantitative"}}
        },
        {
          "data": {"values": [{"i":316}]},
          "mark": {"type": "rule", "color": "#333333", "strokeWidth": 1, "strokeDash": [5,4]},
          "encoding": {"x": {"field": "i", "type": "quantitative"}}
        },
        {
          "data": {"name": "ma"},
          "mark": {"type": "line", "strokeWidth": 1.1, "strokeDash": [5,3], "clip": true, "interpolate": "monotone"},
          "encoding": {
            "x": {"field": "i", "type": "quantitative"},
            "y": {"field": "p", "type": "quantitative"},
            "stroke": {"field": "m", "type": "nominal", "scale": {"domain": ["b","v"], "range": ["#9cb8f6","#c98fd6"]}, "legend": null}
          }
        },
        {
          "data": {"name": "seg"},
          "transform": [{"filter": "datum.t == 'k'"}],
          "mark": {"type": "line", "color": "#cbcb98", "strokeWidth": 1.3, "strokeDash": [8,5], "clip": true},
          "encoding": {
            "x": {"field": "i", "type": "quantitative"},
            "y": {"field": "p", "type": "quantitative"},
            "detail": {"field": "g"}
          }
        },
        {
          "data": {"name": "seg"},
          "transform": [{"filter": "datum.t == 'o2'"}],
          "mark": {"type": "line", "color": "#ffa878", "strokeWidth": 1.2, "strokeDash": [7,4], "clip": true},
          "encoding": {
            "x": {"field": "i", "type": "quantitative"},
            "y": {"field": "p", "type": "quantitative"},
            "detail": {"field": "g"}
          }
        },
        {
          "data": {"name": "bars"},
          "mark": {"type": "rule", "color": "#222222", "strokeWidth": 1},
          "encoding": {
            "x": {"field": "i", "type": "quantitative"},
            "y": {"field": "l", "type": "quantitative"},
            "y2": {"field": "h"}
          }
        },
        {
          "data": {"name": "bars"},
          "mark": {"type": "bar", "size": 2.8, "strokeWidth": 0.8},
          "encoding": {
            "x": {
              "field": "i", "type": "quantitative",
              "scale": {"domain": [-10.06, 335.3], "nice": false, "zero": false},
              "axis": {
                "title": null, "orient": "bottom", "tickSize": 5, "labelPadding": 2, "domainWidth": 1.5, "labelOverlap": false,
                "values": [0,12,24,36,48,60,72,84,95,110,122,134,146,158,170,182,194,206,217,232,244,256,268,280,292,304,316,328],
                "labelExpr": "['Aug-15','12:00','Aug-16','12:00','Aug-17','12:00','Aug-18','12:00','Aug-20','12:00','Aug-22','12:00','Aug-23','12:00','Aug-24','12:00','Aug-25','12:00','Aug-27','12:00','Aug-29','12:00','Aug-30','12:00','Aug-31','12:00','Sep-2017','12:00'][indexof([0,12,24,36,48,60,72,84,95,110,122,134,146,158,170,182,194,206,217,232,244,256,268,280,292,304,316,328], datum.value)]"
              }
            },
            "y": {
              "field": "o", "type": "quantitative",
              "scale": {"domain": [107.981, 111.775], "nice": false, "zero": false},
              "axis": {
                "title": null, "orient": "right", "tickSize": 4, "labels": false,
                "values": [108.0,108.05,108.1,108.15,108.2,108.25,108.3,108.35,108.4,108.45,108.5,108.55,108.6,108.65,108.7,108.75,108.8,108.85,108.9,108.95,109.0,109.05,109.1,109.15,109.2,109.25,109.3,109.35,109.4,109.45,109.5,109.55,109.6,109.65,109.7,109.75,109.8,109.85,109.9,109.95,110.0,110.05,110.1,110.15,110.2,110.25,110.3,110.35,110.4,110.45,110.5,110.55,110.6,110.65,110.7,110.75,110.8,110.85,110.9,110.95,111.0,111.05,111.1,111.15,111.2,111.25,111.3,111.35,111.4,111.45,111.5,111.55,111.6,111.65,111.7]
              }
            },
            "y2": {"field": "c"},
            "fill": {"condition": {"test": "datum.c < datum.o", "value": "#111111"}, "value": "#ffffff"},
            "stroke": {"condition": {"test": "datum.c < datum.o", "value": "#111111"}, "value": "#555555"}
          }
        },
        {
          "data": {"name": "seg"},
          "transform": [{"filter": "datum.t == 'o1'"}],
          "mark": {"type": "line", "color": "#ff6a00", "strokeWidth": 2.6, "strokeDash": [13,7], "clip": true},
          "encoding": {
            "x": {"field": "i", "type": "quantitative"},
            "y": {"field": "p", "type": "quantitative"},
            "detail": {"field": "g"}
          }
        },
        {
          "data": {"name": "seg"},
          "transform": [{"filter": "datum.t == 'ch'"}],
          "mark": {"type": "line", "color": "#0c14ee", "strokeWidth": 3.2, "clip": true},
          "encoding": {
            "x": {"field": "i", "type": "quantitative"},
            "y": {"field": "p", "type": "quantitative"},
            "detail": {"field": "g"}
          }
        },
        {
          "data": {"values": [{"i":265.3,"p":109.9,"p2":107.981}]},
          "mark": {"type": "rule", "color": "#8a8a8a", "strokeWidth": 1.5},
          "encoding": {
            "x": {"field": "i", "type": "quantitative"},
            "y": {"field": "p", "type": "quantitative"},
            "y2": {"field": "p2"}
          }
        },
        {
          "data": {"values": [{"i":263.3,"i2":267.4,"p":109.905}]},
          "mark": {"type": "rule", "color": "#8a8a8a", "strokeWidth": 2},
          "encoding": {
            "x": {"field": "i", "type": "quantitative"},
            "x2": {"field": "i2"},
            "y": {"field": "p", "type": "quantitative"}
          }
        },
        {
          "data": {"values": [{"i":265.3,"p":109.875}]},
          "mark": {"type": "point", "shape": "triangle-up", "filled": true, "size": 35, "color": "#777777", "opacity": 1},
          "encoding": {
            "x": {"field": "i", "type": "quantitative"},
            "y": {"field": "p", "type": "quantitative"}
          }
        },
        {
          "data": {"values": [{"i":266.6,"p":109.862,"t":"109.903"}]},
          "mark": {"type": "text", "align": "left", "baseline": "middle", "fontSize": 10, "color": "#666666"},
          "encoding": {
            "x": {"field": "i", "type": "quantitative"},
            "y": {"field": "p", "type": "quantitative"},
            "text": {"field": "t"}
          }
        },
        {
          "data": {"values": [{"i":262.1,"i2":268.3,"p":108.88,"t":"2.046"}]},
          "layer": [
            {
              "mark": {"type": "bar", "orient": "horizontal", "height": 13, "fill": "#ffffff", "stroke": "#999999", "strokeWidth": 1},
              "encoding": {
                "x": {"field": "i", "type": "quantitative"},
                "x2": {"field": "i2"},
                "y": {"field": "p", "type": "quantitative"}
              }
            },
            {
              "mark": {"type": "text", "align": "left", "baseline": "middle", "fontSize": 10.5, "color": "#555555", "dx": 3},
              "encoding": {
                "x": {"field": "i", "type": "quantitative"},
                "y": {"field": "p", "type": "quantitative"},
                "text": {"field": "t"}
              }
            }
          ]
        },
        {
          "data": {"values": [{"i":303.7,"p":111.589,"p2":109.536}]},
          "mark": {"type": "rule", "color": "#111111", "strokeWidth": 1},
          "encoding": {
            "x": {"field": "i", "type": "quantitative"},
            "y": {"field": "p", "type": "quantitative"},
            "y2": {"field": "p2"}
          }
        },
        {
          "data": {"values": [{"i":301.5,"i2":317,"p":111.589},{"i":303.7,"i2":318.2,"p":111.151},{"i":303.7,"i2":318.2,"p":110.807},{"i":303.7,"i2":318.2,"p":110.566},{"i":301.5,"i2":305.6,"p":109.536}]},
          "mark": {"type": "rule", "color": "#222222", "strokeWidth": 1.2},
          "encoding": {
            "x": {"field": "i", "type": "quantitative"},
            "x2": {"field": "i2"},
            "y": {"field": "p", "type": "quantitative"}
          }
        },
        {
          "data": {"values": [{"i":303.7,"p":111.56,"s":"u"},{"i":303.7,"p":109.58,"s":"d"}]},
          "mark": {"type": "point", "filled": true, "size": 45, "color": "#111111", "opacity": 1},
          "encoding": {
            "x": {"field": "i", "type": "quantitative"},
            "y": {"field": "p", "type": "quantitative"},
            "shape": {"field": "s", "type": "nominal", "scale": {"domain": ["u","d"], "range": ["triangle-up","triangle-down"]}, "legend": null}
          }
        },
        {
          "data": {"values": [{"i":317,"p":111.589,"t":"100.0%(111.589)","f":"w"},{"i":318.2,"p":111.151,"t":"78.6%(111.151)","f":"w"},{"i":318.2,"p":110.807,"t":"61.8%(110.807)","f":"g"},{"i":318.2,"p":110.566,"t":"50.0%(110.566)","f":"w"}]},
          "layer": [
            {
              "mark": {"type": "bar", "orient": "horizontal", "height": 13, "stroke": "#777777", "strokeWidth": 1, "cornerRadius": 3},
              "encoding": {
                "x": {"field": "i", "type": "quantitative"},
                "x2": {"datum": 333.6},
                "y": {"field": "p", "type": "quantitative"},
                "fill": {"field": "f", "type": "nominal", "scale": {"domain": ["w","g","b","v","r"], "range": ["#ffffff","#c8efc0","#cde6f3","#b6b6f0","#f4c6c6"]}, "legend": null}
              }
            },
            {
              "mark": {"type": "text", "align": "left", "baseline": "middle", "fontSize": 9.5, "color": "#111111", "dx": 2},
              "encoding": {
                "x": {"field": "i", "type": "quantitative"},
                "y": {"field": "p", "type": "quantitative"},
                "text": {"field": "t"}
              }
            }
          ]
        },
        {
          "data": {"values": [{"i":333.5,"p":110.48,"t":"5 vs 1+3"}]},
          "mark": {"type": "text", "align": "right", "baseline": "middle", "fontSize": 11, "fontWeight": "bold", "color": "#111111"},
          "encoding": {
            "x": {"field": "i", "type": "quantitative"},
            "y": {"field": "p", "type": "quantitative"},
            "text": {"field": "t"}
          }
        },
        {
          "data": {"name": "tri"},
          "transform": [{"filter": "datum.k == 'h'"}],
          "mark": {"type": "point", "shape": "triangle-down", "filled": true, "size": 110, "fill": "#8e1414", "stroke": "#3d0000", "strokeWidth": 0.7, "opacity": 1},
          "encoding": {
            "x": {"field": "i", "type": "quantitative"},
            "y": {"field": "p", "type": "quantitative"}
          }
        },
        {
          "data": {"name": "tri"},
          "transform": [{"filter": "datum.k == 'l'"}],
          "mark": {"type": "point", "shape": "triangle-up", "filled": true, "size": 110, "fill": "#1c8a1c", "stroke": "#0a400a", "strokeWidth": 0.7, "opacity": 1},
          "encoding": {
            "x": {"field": "i", "type": "quantitative"},
            "y": {"field": "p", "type": "quantitative"}
          }
        },
        {
          "data": {"name": "wl"},
          "mark": {"type": "text", "align": "center", "baseline": "middle", "fontSize": 31, "font": "Liberation Sans", "clip": true},
          "encoding": {
            "x": {"field": "i", "type": "quantitative"},
            "y": {"field": "p", "type": "quantitative"},
            "text": {"field": "t"},
            "color": {"field": "c", "type": "nominal", "scale": {"domain": ["p","o"], "range": ["#c39cf2","#ff6a00"]}, "legend": null}
          }
        },
        {
          "data": {"values": [{"p":108.25},{"p":108.5},{"p":108.75},{"p":109.0},{"p":109.25},{"p":109.5},{"p":109.75},{"p":110.0},{"p":110.25},{"p":110.5},{"p":110.75},{"p":111.0},{"p":111.25},{"p":111.5}]},
          "mark": {"type": "text", "align": "left", "baseline": "middle", "fontSize": 11.5, "color": "#222222", "dx": 6},
          "encoding": {
            "x": {"datum": 335.3, "type": "quantitative"},
            "y": {"field": "p", "type": "quantitative"},
            "text": {"field": "p", "type": "quantitative", "format": ".3f"}
          }
        },
        {
          "data": {"values": [{"p":110.621,"t":"110.621","f":"b"},{"p":110.519,"t":"110.519","f":"v"},{"p":110.207,"t":"110.207","f":"w"},{"p":110.156,"t":"110.156","f":"r"},{"p":109.536,"t":"109.536","f":"w"}]},
          "layer": [
            {
              "mark": {"type": "bar", "orient": "horizontal", "height": 14, "stroke": "#666666", "strokeWidth": 1},
              "encoding": {
                "x": {"datum": 335.8, "type": "quantitative"},
                "x2": {"datum": 346.0},
                "y": {"field": "p", "type": "quantitative"},
                "fill": {"field": "f", "type": "nominal", "scale": {"domain": ["w","g","b","v","r"], "range": ["#ffffff","#c8efc0","#cde6f3","#b6b6f0","#f4c6c6"]}, "legend": null}
              }
            },
            {
              "mark": {"type": "text", "align": "left", "baseline": "middle", "fontSize": 11.5, "color": "#222222", "dx": 3},
              "encoding": {
                "x": {"datum": 335.8, "type": "quantitative"},
                "y": {"field": "p", "type": "quantitative"},
                "text": {"field": "t"}
              }
            }
          ]
        },
        {
          "data": {"values": [{"i":-7.92,"p":111.694,"t":"USD/JPY - 1 hour"}]},
          "mark": {"type": "text", "align": "left", "baseline": "middle", "fontSize": 13.5, "fontWeight": "bold", "color": "#111111"},
          "encoding": {
            "x": {"field": "i", "type": "quantitative"},
            "y": {"field": "p", "type": "quantitative"},
            "text": {"field": "t"}
          }
        },
        {
          "data": {"values": [{"i":-7.5,"p":111.595,"t":"Wave Analysis"}]},
          "mark": {"type": "text", "align": "left", "baseline": "middle", "fontSize": 11, "color": "#555555"},
          "encoding": {
            "x": {"field": "i", "type": "quantitative"},
            "y": {"field": "p", "type": "quantitative"},
            "text": {"field": "t"}
          }
        },
        {
          "data": {"values": [{"i":-8.8,"p":108.034,"t":"⇔⇔"},{"i":-0.9,"p":108.034,"t":"MotiveWave"},{"i":333.8,"p":111.71,"t":"⇨⇩⇧"},{"i":333.8,"p":108.03,"t":"⇧⇩"}]},
          "mark": {"type": "text", "align": "left", "baseline": "middle", "fontSize": 11, "color": "#333333"},
          "encoding": {
            "x": {"field": "i", "type": "quantitative"},
            "y": {"field": "p", "type": "quantitative"},
            "text": {"field": "t"},
            "align": {"condition": {"test": "datum.i > 300", "value": "right"}, "value": "left"}
          }
        }
      ]
    },
    {
      "width": 1613,
      "height": 73,
      "layer": [
        {
          "data": {"values": [{"i":316}]},
          "mark": {"type": "rule", "color": "#333333", "strokeWidth": 1, "strokeDash": [5,4]},
          "encoding": {"x": {"field": "i", "type": "quantitative", "axis": null}}
        },
        {
          "data": {"name": "bars"},
          "mark": {"type": "bar", "size": 2.8},
          "encoding": {
            "x": {"field": "i", "type": "quantitative", "scale": {"domain": [-10.06, 335.3], "nice": false, "zero": false}, "axis": null},
            "y": {"field": "a", "type": "quantitative", "scale": {"domain": [-0.65, 0.87], "nice": false, "zero": false}, "axis": {"title": null, "orient": "right", "values": [-0.5, 0, 0.5], "tickSize": 4, "labels": false}},
            "y2": {"datum": 0},
            "color": {"field": "k", "type": "nominal", "scale": {"domain": ["b","r"], "range": ["#2b2bf2","#a82a2a"]}, "legend": null}
          }
        },
        {
          "data": {"values": [{"a":0}]},
          "mark": {"type": "rule", "color": "#222222", "strokeWidth": 1, "strokeDash": [2,2]},
          "encoding": {"y": {"field": "a", "type": "quantitative"}}
        },
        {
          "data": {"values": [{"i":-8.4,"a":0.62,"t":"Awesome Osc(34,5)"}]},
          "mark": {"type": "text", "align": "left", "baseline": "middle", "fontSize": 11.5, "fontWeight": "bold", "color": "#111111"},
          "encoding": {
            "x": {"field": "i", "type": "quantitative", "axis": null},
            "y": {"field": "a", "type": "quantitative"},
            "text": {"field": "t"}
          }
        },
        {
          "data": {"values": [{"a":0.5},{"a":0},{"a":-0.5}]},
          "mark": {"type": "text", "align": "left", "baseline": "middle", "fontSize": 11.5, "color": "#222222", "dx": 6},
          "encoding": {
            "x": {"datum": 335.3, "type": "quantitative", "axis": null},
            "y": {"field": "a", "type": "quantitative"},
            "text": {"field": "a", "type": "quantitative", "format": ".3f"}
          }
        },
        {
          "data": {"values": [{"a":0.418,"t":"0.418"}]},
          "layer": [
            {
              "mark": {"type": "bar", "orient": "horizontal", "height": 14, "fill": "#ffffff", "stroke": "#666666", "strokeWidth": 1},
              "encoding": {
                "x": {"datum": 335.8, "type": "quantitative", "axis": null},
                "x2": {"datum": 346.0},
                "y": {"field": "a", "type": "quantitative"}
              }
            },
            {
              "mark": {"type": "text", "align": "left", "baseline": "middle", "fontSize": 11.5, "color": "#222222", "dx": 3},
              "encoding": {
                "x": {"datum": 335.8, "type": "quantitative", "axis": null},
                "y": {"field": "a", "type": "quantitative"},
                "text": {"field": "t"}
              }
            }
          ]
        }
      ]
    }
  ]
}
